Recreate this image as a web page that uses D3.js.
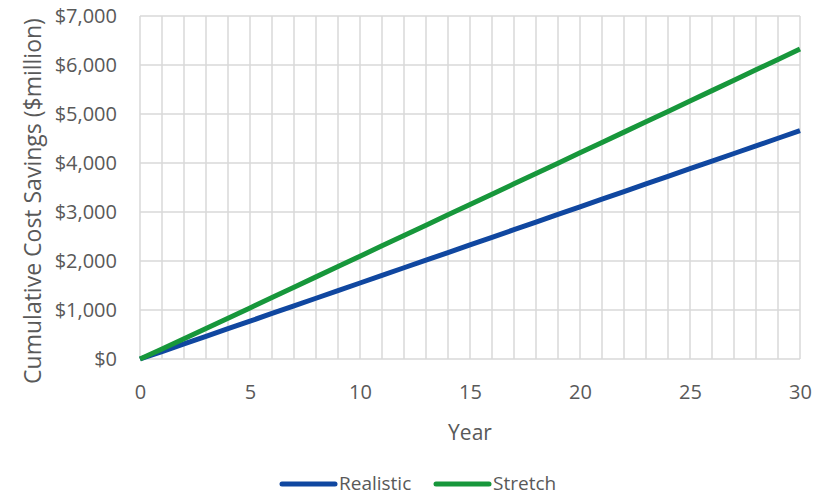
<!DOCTYPE html>
<html>
<head>
<meta charset="utf-8">
<script src="https://cdn.jsdelivr.net/npm/d3@7/dist/d3.min.js"></script>
<style>
  html, body { margin: 0; padding: 0; background: #fff; }
  svg { display: block; font-family: "Open Sans", "Liberation Sans", sans-serif; }
</style>
</head>
<body>
<svg id="chart" width="822" height="495"></svg>
<script>
// Years of the projection
const years = d3.range(0, 31);

// Cumulative cost savings, $ million, by year
const realistic = [0, 152, 307, 462, 618, 773, 929, 1084, 1240, 1395, 1551,
  1706, 1862, 2017, 2173, 2328, 2484, 2639, 2795, 2950, 3106,
  3261, 3417, 3572, 3728, 3883, 4039, 4194, 4350, 4505, 4660];
const stretch = [0, 206, 414, 623, 833, 1043, 1254, 1465, 1676, 1887, 2098,
  2309, 2520, 2731, 2942, 3153, 3364, 3575, 3786, 3997, 4208,
  4419, 4630, 4841, 5053, 5265, 5477, 5689, 5901, 6114, 6327];

const seriesNames = ["Realistic", "Stretch"];
const seriesColors = ["#1047a0", "#17973b"];
const xTicks = [0, 5, 10, 15, 20, 25, 30];
const yTicks = [0, 1000, 2000, 3000, 4000, 5000, 6000, 7000];

const svg = d3.select("#chart");
const plot = { left: 140, right: 800, top: 16, bottom: 359 };

const x = d3.scaleLinear().domain([0, 30]).range([plot.left, plot.right]);
const y = d3.scaleLinear().domain([0, 7000]).range([plot.bottom, plot.top]);

const gridColor = "#d9d9d9";
const textColor = "#595959";

// Vertical gridlines every year
svg.append("g")
  .selectAll("line")
  .data(years)
  .join("line")
  .attr("x1", d => x(d)).attr("x2", d => x(d))
  .attr("y1", plot.top).attr("y2", plot.bottom)
  .attr("stroke", gridColor).attr("stroke-width", 1.5);

// Horizontal gridlines
svg.append("g")
  .selectAll("line")
  .data(yTicks)
  .join("line")
  .attr("x1", plot.left).attr("x2", plot.right)
  .attr("y1", d => y(d)).attr("y2", d => y(d))
  .attr("stroke", gridColor).attr("stroke-width", 1.5);

// Y axis labels
const yAxis = d3.axisLeft(y)
  .tickValues(yTicks)
  .tickSize(0)
  .tickPadding(23)
  .tickFormat(d => "$" + d3.format(",")(d));
const gy = svg.append("g").attr("transform", `translate(${plot.left},0)`).call(yAxis);
gy.select(".domain").remove();
gy.selectAll("text").attr("fill", textColor).style("font-size", "20px")
  .style("font-family", "'Open Sans', sans-serif");

// X axis labels
const xAxis = d3.axisBottom(x).tickValues(xTicks).tickSize(0).tickPadding(26);
const gx = svg.append("g").attr("transform", `translate(0,${plot.bottom})`).call(xAxis);
gx.select(".domain").remove();
gx.selectAll("text").attr("fill", textColor).style("font-size", "20px")
  .style("font-family", "'Open Sans', sans-serif");

// Axis titles
svg.append("text")
  .attr("x", (plot.left + plot.right) / 2).attr("y", 440)
  .attr("text-anchor", "middle")
  .attr("fill", textColor).style("font-size", "21px")
  .text("Year");

svg.append("text")
  .attr("transform", "translate(41,201) rotate(-90)")
  .attr("text-anchor", "middle")
  .attr("fill", textColor).style("font-size", "23px")
  .text("Cumulative Cost Savings ($million)");

// Series lines
const line = d3.line().x((d, i) => x(years[i])).y(d => y(d));
[realistic, stretch].forEach((vals, k) => {
  svg.append("path")
    .datum(vals)
    .attr("d", line)
    .attr("fill", "none")
    .attr("stroke", seriesColors[k])
    .attr("stroke-width", 5)
    .attr("stroke-linejoin", "round");
});

// Legend
const legendItems = [
  { name: seriesNames[0], color: seriesColors[0], x0: 282 },
  { name: seriesNames[1], color: seriesColors[1], x0: 436 }
];
const lg = svg.append("g");
legendItems.forEach(it => {
  lg.append("line")
    .attr("x1", it.x0).attr("x2", it.x0 + 53)
    .attr("y1", 484).attr("y2", 484)
    .attr("stroke", it.color).attr("stroke-width", 5)
    .attr("stroke-linecap", "round");
  lg.append("text")
    .attr("x", it.x0 + 57).attr("y", 490)
    .attr("fill", textColor).style("font-size", "19px")
    .text(it.name);
});
</script>
</body>
</html>
